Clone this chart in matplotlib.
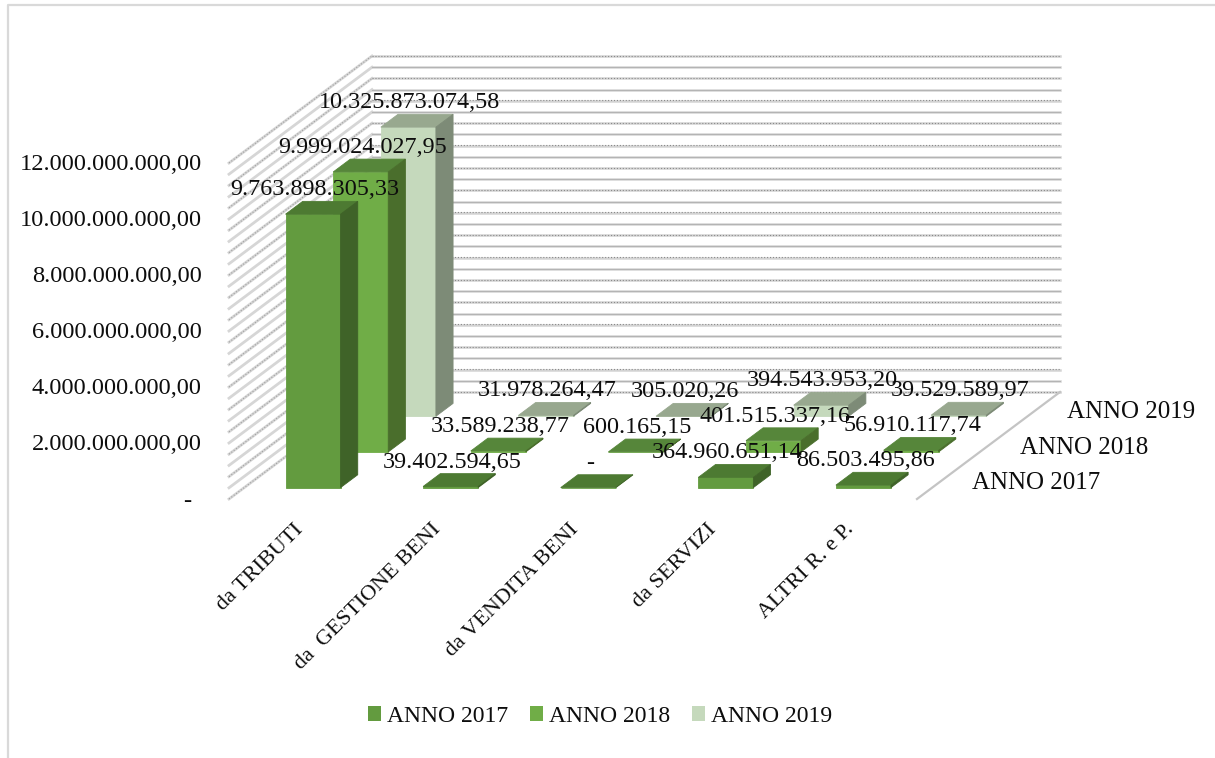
import numpy as np
import matplotlib
matplotlib.use('Agg')
import matplotlib.pyplot as plt
from matplotlib.patches import Patch, Polygon

plt.rcParams['font.family'] = ['Liberation Serif', 'DejaVu Serif']

categories = ['da TRIBUTI', 'da  GESTIONE BENI', 'da VENDITA BENI', 'da SERVIZI', 'ALTRI R. e P.']
series_names = ['ANNO 2017', 'ANNO 2018', 'ANNO 2019']
anno_2017 = [9763898305.33, 39402594.65, 0.0, 364960651.14, 86503495.86]
anno_2018 = [9999024027.95, 33589238.77, 600165.15, 401515337.16, 56910117.74]
anno_2019 = [10325873074.58, 31978264.47, 305020.26, 394543953.20, 39529589.97]
labels_2017 = ['9.763.898.305,33', '39.402.594,65', '-', '364.960.651,14', '86.503.495,86']
labels_2018 = ['9.999.024.027,95', '33.589.238,77', '600.165,15', '401.515.337,16', '56.910.117,74']
labels_2019 = ['10.325.873.074,58', '31.978.264,47', '305.020,26', '394.543.953,20', '39.529.589,97']
y_ticks = [0, 2e9, 4e9, 6e9, 8e9, 10e9, 12e9]
y_tick_labels = ['-', '2.000.000.000,00', '4.000.000.000,00', '6.000.000.000,00',
                 '8.000.000.000,00', '10.000.000.000,00', '12.000.000.000,00']

values = [anno_2017, anno_2018, anno_2019]
texts = [labels_2017, labels_2018, labels_2019]

# colours: front, top, side
face_cols = [('#639b3f', '#4d7a32', '#3f6328'),
             ('#70ad47', '#56863a', '#4a6e2c'),
             ('#c5d9bc', '#98a88f', '#7d8b77')]

# oblique 3d box, everything in pixels of the figure
X0, Y0 = 229.0, 499.0
CAT_W = 137.6
DEPTH_X, DEPTH_Y = 143.0, 107.0
PX_PER_UNIT = 336.0 / 12e9
Y_MAX = 12e9


def project(cat, depth, val):
    # cat in category units, depth in series units, val in data units
    x = X0 + cat * CAT_W + depth / 3.0 * DEPTH_X
    y = Y0 - depth / 3.0 * DEPTH_Y - val * PX_PER_UNIT
    return x, y


fig = plt.figure(figsize=(12.15, 7.58), dpi=100)
ax = fig.add_axes([0, 0, 1, 1])
ax.set_xlim(0, 1215)
ax.set_ylim(758, 0)
ax.axis('off')

# chart frame
ax.plot([8, 8, 1215], [758, 5, 5], color='#d9d9d9', lw=1.6, zorder=1)

# gridlines on both walls, pale band with a thin dotted line on some of them
grid_vals = np.arange(0, Y_MAX + 1, 4e8)
for i, v in enumerate(grid_vals):
    a = project(0, 0, v)
    b = project(0, 3, v)
    c = project(5, 3, v)
    ax.plot([a[0], b[0]], [a[1], b[1]], color='#d6d6d6', lw=2.0, zorder=2)
    ax.plot([b[0], c[0]], [b[1], c[1]], color='#d4d4d4', lw=1.8, zorder=2)
    if i % 2 == 0:
        ax.plot([a[0], b[0]], [a[1], b[1]], color='#a0a0a0', lw=0.8, ls=':', zorder=2)
        ax.plot([b[0], c[0]], [b[1] - 0.5, c[1] - 0.5], color='#8a8a8a', lw=0.8, ls=':', zorder=2)
    else:
        ax.plot([b[0], c[0]], [b[1], c[1]], color='#b4b4b4', lw=0.7, zorder=2)

# right edge of the floor
a = project(5, 0, 0)
b = project(5, 3, 0)
ax.plot([a[0], b[0]], [a[1], b[1]], color='#c4c4c4', lw=1.6, zorder=2)

# bars, back series first
zo = 3
for s in [2, 1, 0]:
    front, top, side = face_cols[s]
    for c in range(len(categories)):
        v = values[s][c]
        c0, c1 = c + 0.3, c + 0.7
        d0, d1 = s + 0.32, s + 0.68
        pts = [(project(c0, d0, 0), project(c1, d0, 0), project(c1, d0, v), project(c0, d0, v)),
               (project(c0, d0, v), project(c1, d0, v), project(c1, d1, v), project(c0, d1, v)),
               (project(c1, d0, 0), project(c1, d1, 0), project(c1, d1, v), project(c1, d0, v))]
        for p, col in zip(pts, (front, top, side)):
            ax.add_patch(Polygon(p, closed=True, facecolor=col, edgecolor=col, lw=0.6, zorder=zo))
        zo += 1

# value labels
for s in range(3):
    for c in range(len(categories)):
        x, y = project(c + 0.5, s + 0.5, values[s][c])
        ax.text(x - 7, y - 18, texts[s][c], ha='center', va='center', fontsize=17.4,
                color='#0d0d0d', zorder=100)

# value axis labels, the dash sits further left than the numbers
for t, lab in zip(y_ticks, y_tick_labels):
    x, y = project(0, 0, t)
    pad = 38 if lab == '-' else 27
    ax.text(x - pad, y + 2, lab, ha='right', va='center', fontsize=17.6, color='#0d0d0d')

# category labels
for c, lab in enumerate(categories):
    x, y = project(c + 0.5, 0, 0)
    ax.text(x - 4, y + 21, lab, ha='right', va='top', rotation=45, rotation_mode='anchor',
            fontsize=16, color='#0d0d0d')

# series labels at the right
for s, lab in enumerate(series_names):
    x, y = project(5, s + 0.5, 0)
    ax.text(x + 31, y + 2, lab, ha='left', va='center', fontsize=18, color='#0d0d0d')

handles = [Patch(facecolor=face_cols[i][0], edgecolor='none', label=series_names[i]) for i in range(3)]
ax.legend(handles=handles, loc='center', bbox_to_anchor=(600 / 1215, 1 - 716 / 758), ncol=3,
          frameon=False, fontsize=17, handlelength=0.55, handleheight=0.6, handletextpad=0.25,
          columnspacing=0.93, labelcolor='#0d0d0d')

fig.savefig('out.png', dpi=100)
